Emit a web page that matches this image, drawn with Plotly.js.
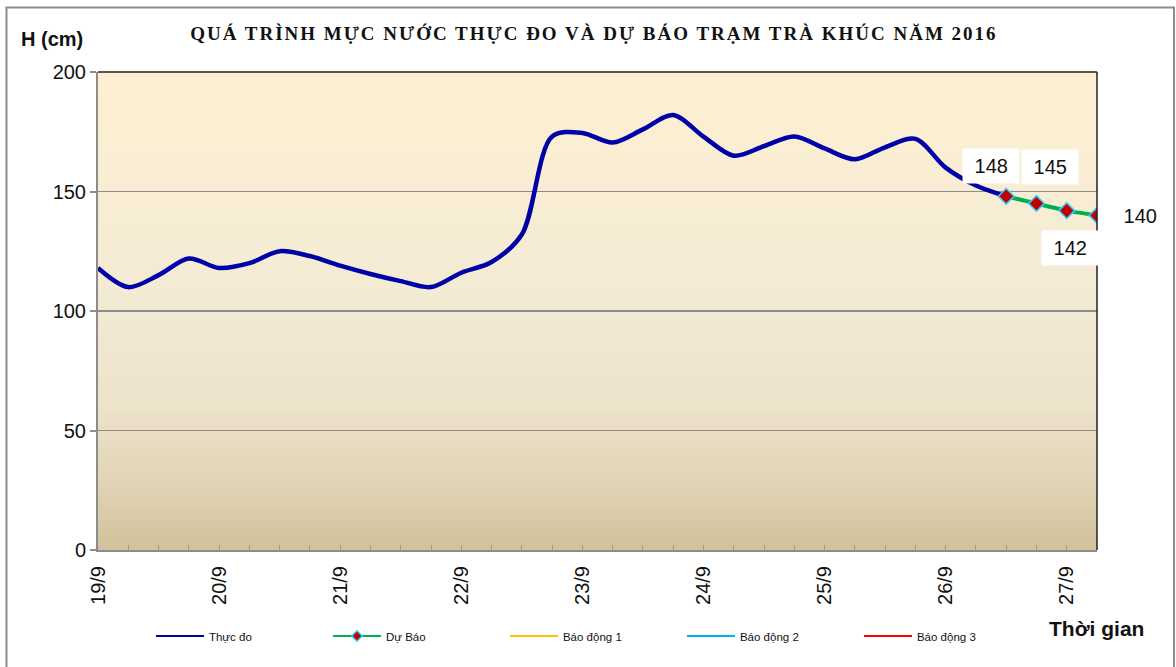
<!DOCTYPE html>
<html>
<head>
<meta charset="utf-8">
<script src="https://cdn.plot.ly/plotly-3.0.1.min.js"></script>
<style>
html,body{margin:0;padding:0;background:#fff;}
#chart{width:1176px;height:667px;}
#chart .gtitle{letter-spacing:2px;}
</style>
</head>
<body>
<div id="chart"></div>
<script>
// Day labels (one every 4 six-hour steps)
const dayLabels = ['19/9','20/9','21/9','22/9','23/9','24/9','25/9','26/9','27/9'];
const stepsPerDay = 4;

// Observed water level (cm), every 6 h from 19/9 00h to 26/9 12h
const observed = [118,110,115,122,118,120,125,123,119,115.5,112.5,110,116,120.5,132,173,174.5,170.5,176,182,173,165,169,173,168,163.5,168.5,172,160,152.5,148];

// Forecast (cm), 26/9 12h .. 27/9 06h
const forecast = [148,145,142,140];
const forecastStart = 30;

// Alarm levels (cm) – above the plotted range
const alarmNames = ['Báo động 1','Báo động 2','Báo động 3'];
const alarmLevels = [350,500,650];
const alarmColors = ['#FFC000','#00B0F0','#FF0000'];

const xObs = observed.map((_, i) => i);
const xFc = forecast.map((_, i) => forecastStart + i);
const lastIdx = forecastStart + forecast.length - 1;

const traces = [
  {x: xObs, y: observed, name: 'Thực đo', mode: 'lines', showlegend: false,
   line: {color: '#0000A8', width: 4.5, shape: 'spline', smoothing: 0.9}},
  {x: xFc, y: forecast, name: 'Dự Báo', mode: 'lines+markers', showlegend: false,
   line: {color: '#00B050', width: 4, shape: 'spline', smoothing: 0.5},
   marker: {symbol: 'diamond', size: 12, color: '#C00000', line: {color: '#33CCFF', width: 1.5}}},
  // legend samples (thin lines as in the reference legend)
  {x: [null], y: [null], name: 'Thực đo', mode: 'lines', line: {color: '#0000A8', width: 2}},
  {x: [null], y: [null], name: 'Dự Báo', mode: 'lines+markers', line: {color: '#00B050', width: 2},
   marker: {symbol: 'diamond', size: 8, color: '#C00000', line: {color: '#33CCFF', width: 1.5}}}
];
alarmLevels.forEach((lv, k) => {
  traces.push({x: [0, lastIdx], y: [lv, lv], name: alarmNames[k], mode: 'lines',
    line: {color: alarmColors[k], width: 2}});
});

// gradient background bands
const stops = [[0,[209,193,156]],[0.15,[226,213,182]],[0.3,[237,227,203]],[0.55,[244,235,213]],[1,[253,239,210]]];
function colAt(t){
  for(let i=0;i<stops.length-1;i++){
    const a=stops[i], b=stops[i+1];
    if(t>=a[0] && t<=b[0]){
      const f=(t-a[0])/(b[0]-a[0]);
      const c=a[1].map((v,j)=>Math.round(v+(b[1][j]-v)*f));
      return 'rgb('+c.join(',')+')';
    }
  }
  return 'rgb(253,239,210)';
}
const shapes = [];
const N = 80;
for(let i=0;i<N;i++){
  shapes.push({type:'rect', xref:'x domain', yref:'y domain', x0:0, x1:1, y0:i/N, y1:(i+1)/N+0.002,
    fillcolor: colAt((i+0.5)/N), line:{width:0}, layer:'below'});
}
// top & right plot border
shapes.push({type:'line', xref:'x domain', yref:'y domain', x0:0, x1:1, y0:1, y1:1, line:{color:'#222', width:1.5}});
shapes.push({type:'line', xref:'x domain', yref:'y domain', x0:1, x1:1, y0:0, y1:1, line:{color:'#222', width:1.5}});
// outer chart frame
shapes.push({type:'rect', xref:'paper', yref:'paper', x0:-0.0916, x1:1.0771, y0:-0.26, y1:1.135,
  line:{color:'#8c8c8c', width:2}, fillcolor:'rgba(0,0,0,0)'});

const labelOffsets = [[-15,-30],[14,-36],[3,37],[43,1]];
const annotations = forecast.map((v, i) => ({
  x: forecastStart + i, y: v, xref: 'x', yref: 'y', text: '&nbsp;' + v + '&nbsp;', showarrow: true,
  arrowcolor: 'rgba(0,0,0,0)', ax: labelOffsets[i][0], ay: labelOffsets[i][1],
  bgcolor: '#fff', borderpad: 6, font: {family: 'Liberation Sans, Arial', size: 20, color: '#111'}
}));
annotations.push({xref:'paper', yref:'paper', x:-0.079, y:1.068, xanchor:'left', yanchor:'middle', showarrow:false,
  text:'<b>H (cm)</b>', font:{family:'Liberation Sans, Arial', size:20, color:'#111'}});
annotations.push({xref:'paper', yref:'paper', x:1.049, y:-0.165, xanchor:'right', yanchor:'middle', showarrow:false,
  text:'<b>Thời gian</b>', font:{family:'Liberation Sans, Arial', size:21, color:'#111'}});

const layout = {
  width: 1176, height: 667,
  margin: {l: 98, r: 79, t: 72, b: 117, autoexpand: false},
  paper_bgcolor: '#fff', plot_bgcolor: 'rgba(0,0,0,0)',
  title: {text: '<b>QUÁ TRÌNH MỰC NƯỚC THỰC ĐO VÀ DỰ BÁO TRẠM TRÀ KHÚC NĂM 2016</b>',
    font: {family: 'Liberation Serif, Times New Roman', size: 19, color: '#111'},
    x: 0.505, xanchor: 'center', y: 0.95, yanchor: 'middle'},
  xaxis: {range: [0, lastIdx], tickmode: 'array',
    tickvals: dayLabels.map((_, i) => i * stepsPerDay), ticktext: dayLabels,
    tickangle: -90, ticks: 'inside', ticklen: 5, tickcolor: '#999', tickwidth: 1,
    minor: {dtick: 1, tick0: 0, ticks: 'inside', ticklen: 5, tickcolor: '#999', showgrid: false},
    showgrid: false, zeroline: false, showline: true, linecolor: '#8c8c8c', linewidth: 2,
    ticklabelstandoff: 6, automargin: false,
    tickfont: {family: 'Liberation Sans, Arial', size: 20, color: '#111'}, fixedrange: true},
  yaxis: {range: [0, 200], dtick: 50, tick0: 0, ticks: 'outside', ticklen: 6, tickcolor: '#8c8c8c', tickwidth: 2,
    showgrid: true, gridcolor: '#8c8c8c', gridwidth: 1.5, zeroline: false,
    showline: true, linecolor: '#8c8c8c', linewidth: 2, automargin: false,
    tickfont: {family: 'Liberation Sans, Arial', size: 20, color: '#111'}, fixedrange: true},
  legend: {orientation: 'h', x: 0.053, y: -0.18, xanchor: 'left', yanchor: 'middle',
    font: {family: 'Liberation Sans, Arial', size: 11.5, color: '#111'},
    itemwidth: 48, entrywidth: 114, entrywidthmode: 'pixels', bgcolor: 'rgba(0,0,0,0)'},
  shapes: shapes,
  annotations: annotations,
  showlegend: true
};

Plotly.newPlot('chart', traces, layout, {displayModeBar: false, staticPlot: true});
</script>
</body>
</html>
